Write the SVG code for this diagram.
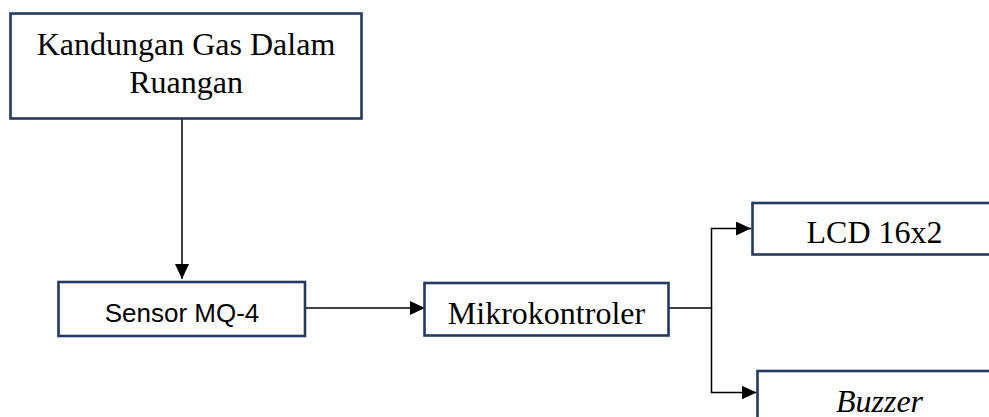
<svg xmlns="http://www.w3.org/2000/svg" width="989" height="417" viewBox="0 0 989 417">
<style>
.box{fill:#fff;stroke:#243a63;stroke-width:2.6}
.t{font-family:"Liberation Serif","Times New Roman",serif;font-size:32px;fill:#000;text-anchor:middle}
.s{font-family:"Liberation Sans",Arial,sans-serif;font-size:26px;fill:#000;text-anchor:middle}
.c{fill:none;stroke:#000;stroke-width:1.5}
</style>
<defs>
<marker id="ah" markerWidth="15" markerHeight="14" refX="15" refY="7" orient="auto" markerUnits="userSpaceOnUse">
<path d="M0,0 L15,7 L0,14 Z" fill="#000"/>
</marker>
</defs>
<rect width="989" height="417" fill="#fff"/>
<g id="connectors">
<line class="c" x1="182" y1="119" x2="182" y2="279" marker-end="url(#ah)"/>
<line class="c" x1="305" y1="308" x2="425" y2="308" marker-end="url(#ah)"/>
<polyline class="c" points="669,308 711.5,308 711.5,228.5 751,228.5" marker-end="url(#ah)"/>
<polyline class="c" points="711.5,308 711.5,392.5 756.5,392.5" marker-end="url(#ah)"/>
</g>
<g id="node-gas">
<rect class="box" x="10.5" y="13.5" width="351" height="105"/>
<text class="t" x="186" y="55">Kandungan Gas Dalam</text>
<text class="t" x="186" y="93">Ruangan</text>
</g>
<g id="node-sensor">
<rect class="box" x="58.5" y="282" width="246.5" height="54"/>
<text class="s" x="182" y="322">Sensor MQ-4</text>
</g>
<g id="node-mikro">
<rect class="box" x="424.5" y="283" width="244" height="52.5"/>
<text class="t" x="546.5" y="324">Mikrokontroler</text>
</g>
<g id="node-lcd">
<rect class="box" x="752.5" y="203" width="250" height="51.5"/>
<text class="t" x="874.5" y="242.5">LCD 16x2</text>
</g>
<g id="node-buzzer">
<rect class="box" x="757.5" y="371" width="250" height="60"/>
<text class="t" x="879.5" y="411.5" font-style="italic">Buzzer</text>
</g>
</svg>
